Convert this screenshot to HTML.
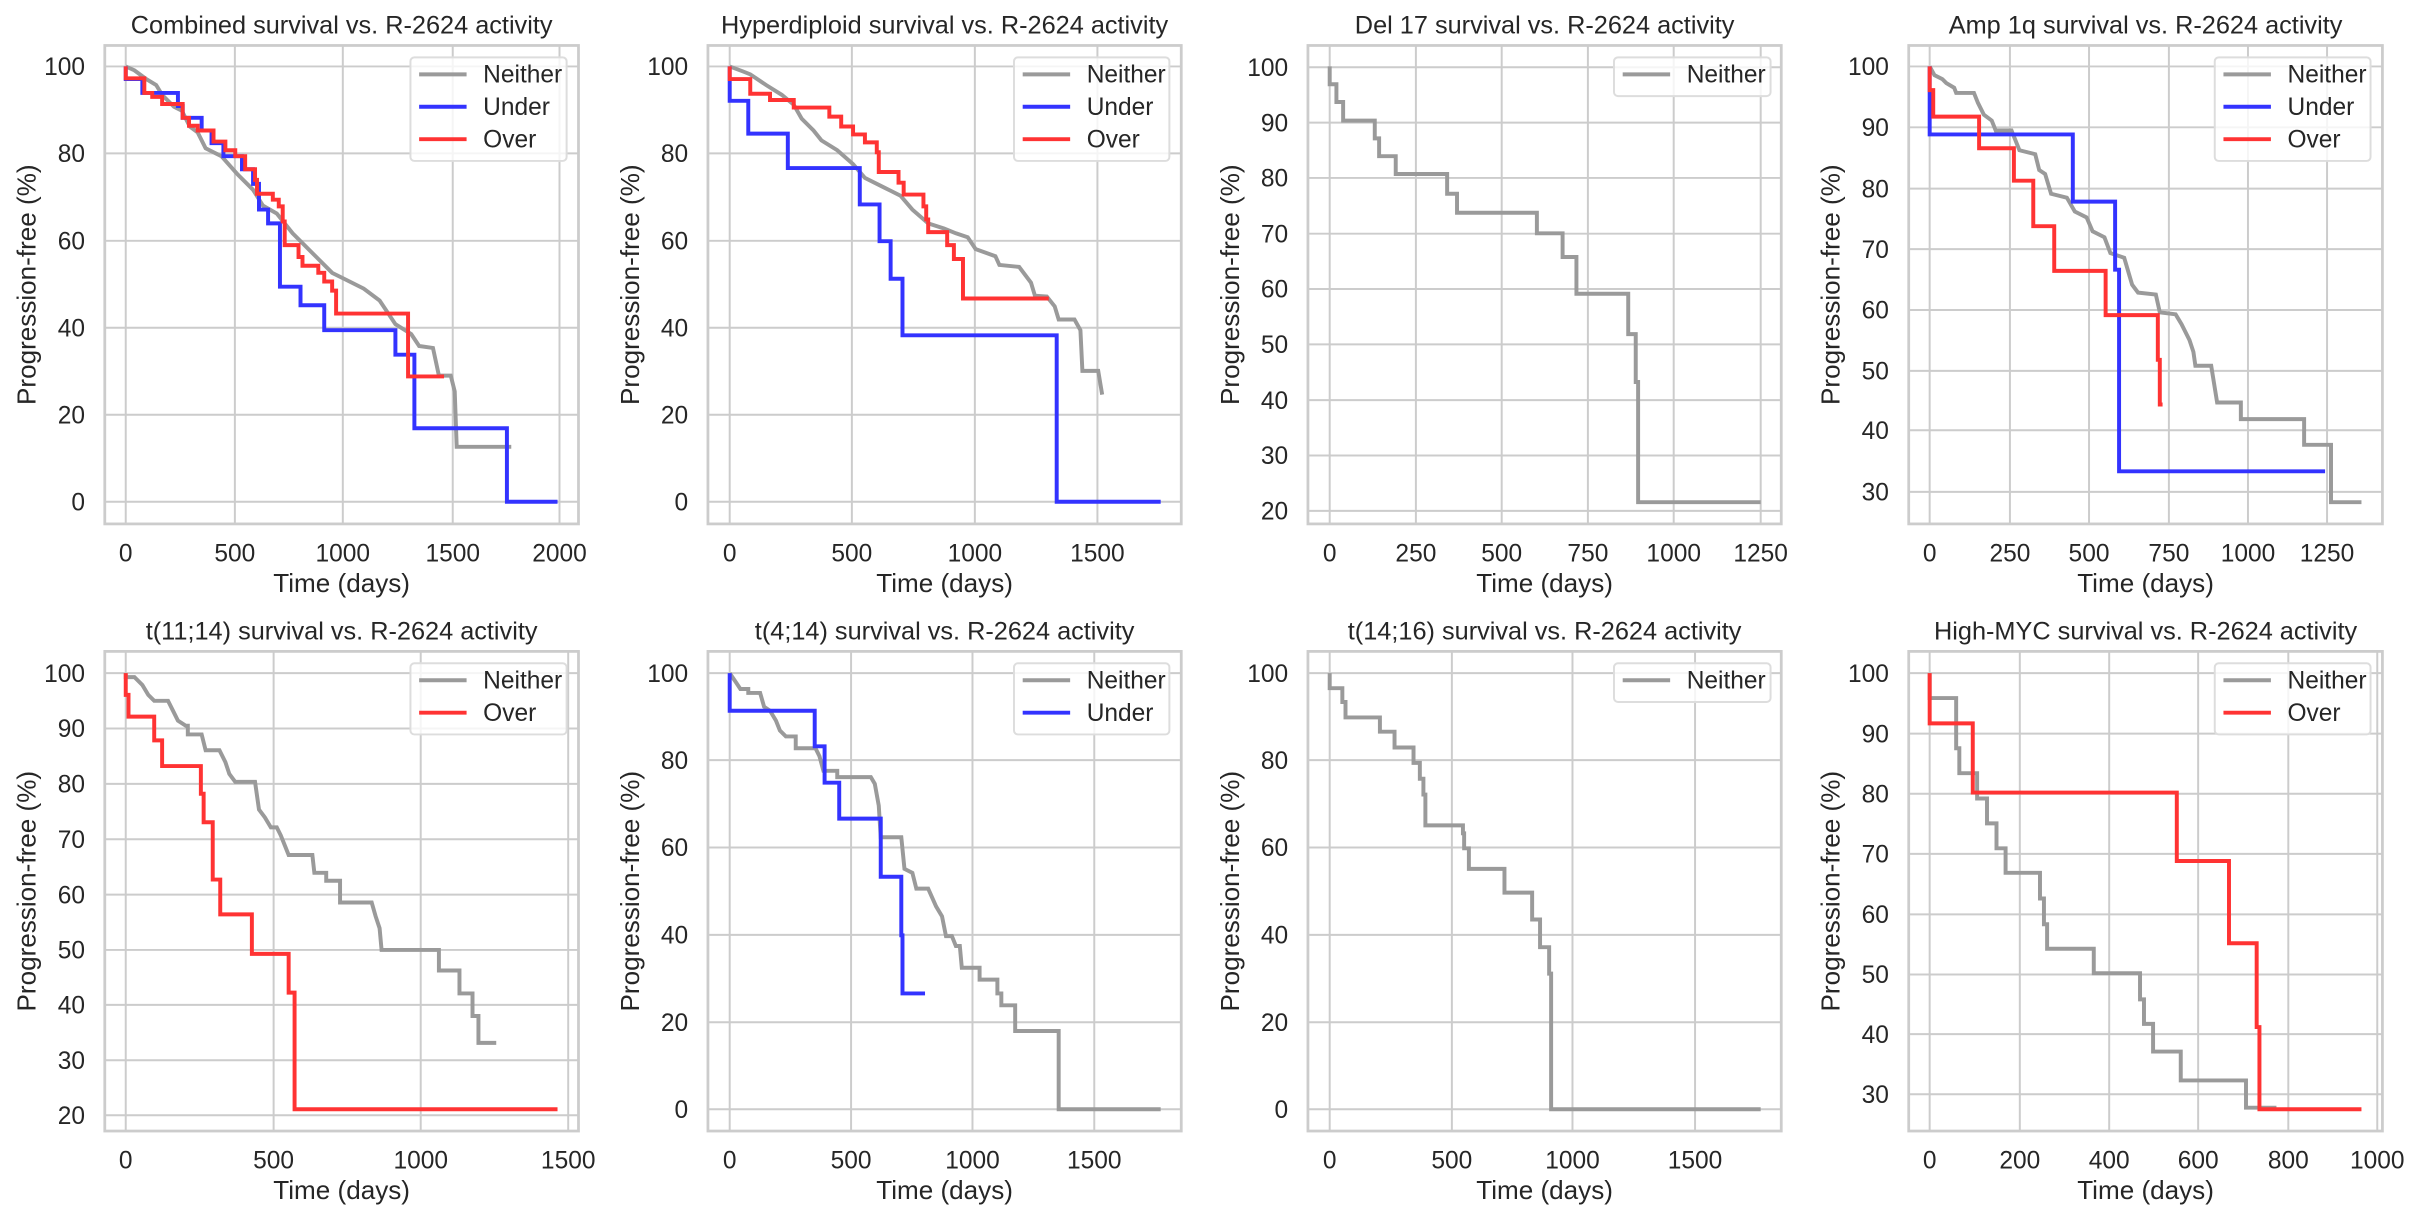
<!DOCTYPE html>
<html><head><meta charset="utf-8"><style>
html,body{margin:0;padding:0;background:#fff}
svg{display:block}
text{font-family:"Liberation Sans",Arial,sans-serif;fill:#262626}
</style></head><body>
<svg id="s" width="2418" height="1218" viewBox="0 0 2418 1218" xmlns="http://www.w3.org/2000/svg"></svg>
<script>
const G='#9a9a9a',B='#3333ff',R='#ff3333';
const P=[
{o:[0,0],ax:[265,115,1463,1325],gx:[[318,'0'],[594,'500'],[867,'1000'],[1145,'1500'],[1415,'2000']],gy:[[168,'100'],[388,'80'],[609,'60'],[829,'40'],[1049,'20'],[1269,'0']],
 t:'Combined survival vs. R-2624 activity',leg:[1038,145,1433],L:[['Neither',G],['Under',B],['Over',R]],
 s:[[G,'M318 168 L340 178 L370 200 L395 215 L410 240 L440 270 L460 280 L480 320 L500 335 L520 375 L560 395 L600 440 L640 480 L665 520 L700 540 L740 590 L800 650 L840 690 L870 705 L920 730 L960 760 L1000 820 L1040 845 L1060 875 L1095 880 L1110 950 L1140 950 L1150 990 L1155 1130 L1293 1130'],
 [B,'M318 168 V200 H360 V235 H450 V268 H462 V298 H510 V330 H535 V362 H565 V395 H612 V428 H640 V465 H655 V530 H678 V565 H708 V602 V725 H760 V772 H820 V835 H1000 V897 H1048 V1083 H1282 V1269 H1410'],
 [R,'M318 168 V198 H365 V235 H385 V245 H410 V263 H462 V298 H478 V318 H500 V330 H540 V358 H570 V380 H595 V395 H620 V428 H645 V455 H650 V490 H690 V505 H705 V522 H715 V560 H720 V620 H755 V650 H765 V672 H805 V690 H820 V712 H840 V735 H850 V793 H1032 V952 H1123']]},
{o:[600,0],ax:[273,115,1470,1325],gx:[[328,'0'],[637,'500'],[948,'1000'],[1258,'1500']],gy:[[168,'100'],[388,'80'],[609,'60'],[829,'40'],[1049,'20'],[1269,'0']],
 t:'Hyperdiploid survival vs. R-2624 activity',leg:[1047,145,1440],L:[['Neither',G],['Under',B],['Over',R]],
 s:[[G,'M328 168 L360 180 L380 188 L420 215 L460 240 L490 265 L510 300 L540 330 L560 355 L600 380 L640 415 L670 450 L720 475 L760 495 L790 530 L830 565 L870 578 L900 590 L930 600 L950 630 L1000 648 L1010 670 L1060 675 L1090 715 L1100 748 L1130 750 L1150 775 L1160 808 L1200 808 L1215 835 L1220 938 L1260 938 L1270 998'],
 [B,'M328 168 V255 H375 V338 H475 V425 H657 V517 H707 V610 H735 V705 H765 V848 H1155 V1269 H1418'],
 [R,'M328 168 V200 H380 V237 H430 V253 H490 V272 H580 V295 H610 V320 H640 V340 H670 V360 H700 V385 H705 V435 H755 V462 H768 V492 H818 V522 H825 V555 H830 V587 H878 V620 H895 V655 H918 V755 H1135']]},
{o:[1200,0],ax:[273,115,1470,1325],gx:[[328,'0'],[546,'250'],[763,'500'],[981,'750'],[1198,'1000'],[1418,'1250']],gy:[[170,'100'],[310,'90'],[450,'80'],[591,'70'],[731,'60'],[871,'50'],[1012,'40'],[1152,'30'],[1292,'20']],
 t:'Del 17 survival vs. R-2624 activity',leg:[1047,145,1443],L:[['Neither',G]],
 s:[[G,'M328 168 V213 H345 V258 H362 V305 H442 V350 H453 V395 H495 V440 H625 V490 H650 V538 H852 V590 H917 V650 H952 V743 H1083 V845 H1102 V966 H1108 V1270 H1418']]},
{o:[1798,0],ax:[280,115,1478,1325],gx:[[333,'0'],[536,'250'],[736,'500'],[938,'750'],[1138,'1000'],[1338,'1250']],gy:[[168,'100'],[322,'90'],[477,'80'],[630,'70'],[784,'60'],[938,'50'],[1088,'40'],[1244,'30']],
 t:'Amp 1q survival vs. R-2624 activity',leg:[1054,145,1448],L:[['Neither',G],['Under',B],['Over',R]],
 s:[[G,'M333 168 L345 190 L365 200 L375 210 L395 222 L400 235 H445 L455 260 L470 290 L490 305 L500 330 H540 L560 380 L600 390 L610 430 L625 440 L640 490 L680 500 L700 535 L730 550 L745 585 L775 600 L790 640 L825 652 L845 720 L860 740 L905 745 L915 790 L955 795 L970 820 L990 860 L1000 890 L1005 925 H1045 L1060 1018 H1120 V1060 H1280 V1125 H1348 V1270 H1425'],
 [B,'M333 168 V340 H695 V510 H802 V682 H812 V1192 H1333'],
 [R,'M333 168 V228 H342 V295 H458 V375 H546 V457 H595 V572 H648 V685 H778 V797 H910 V910 H915 V1023 H922']]},
{o:[0,600],ax:[265,130,1463,1343],gx:[[318,'0'],[692,'500'],[1064,'1000'],[1437,'1500']],gy:[[185,'100'],[325,'90'],[465,'80'],[605,'70'],[745,'60'],[885,'50'],[1024,'40'],[1164,'30'],[1303,'20']],
 t:'t(11;14) survival vs. R-2624 activity',leg:[1038,160,1433],L:[['Neither',G],['Over',R]],
 s:[[G,'M318 185 V195 H340 L360 215 L375 240 L390 255 H425 L440 285 L450 305 L470 318 H475 V340 H510 L520 380 H555 L570 410 L580 440 L595 460 H645 L655 530 L670 550 L685 575 H700 L710 595 L720 620 L730 645 H790 L795 690 H825 V710 H860 V765 H940 L950 800 L960 830 L965 885 H1110 V937 H1162 V995 H1195 V1052 H1210 V1120 H1255'],
 [R,'M318 185 V240 H325 V295 H390 V355 H410 V420 H508 V490 H515 V562 H538 V707 H557 V795 H637 V895 H730 V993 H745 V1288 H1410']]},
{o:[600,600],ax:[273,130,1470,1343],gx:[[328,'0'],[635,'500'],[942,'1000'],[1250,'1500']],gy:[[185,'100'],[405,'80'],[626,'60'],[847,'40'],[1068,'20'],[1288,'0']],
 t:'t(4;14) survival vs. R-2624 activity',leg:[1047,160,1440],L:[['Neither',G],['Under',B]],
 s:[[G,'M328 185 L345 210 L355 225 H375 V235 H405 L415 270 L430 280 L445 305 L455 330 L470 345 H495 V375 H545 L555 395 L565 432 H600 V448 H685 L695 465 L705 520 L710 600 H762 L770 680 L790 690 L800 730 H830 L850 775 L865 800 L875 850 H890 L900 875 H910 L915 930 H960 V960 H1005 V995 H1015 V1025 H1050 V1090 H1160 V1288 H1418'],
 [B,'M328 185 V280 H543 V370 H568 V462 H605 V553 H710 V700 H762 V848 H765 V995 H822']]},
{o:[1200,600],ax:[273,130,1470,1343],gx:[[328,'0'],[637,'500'],[942,'1000'],[1252,'1500']],gy:[[185,'100'],[405,'80'],[626,'60'],[847,'40'],[1068,'20'],[1288,'0']],
 t:'t(14;16) survival vs. R-2624 activity',leg:[1047,160,1443],L:[['Neither',G]],
 s:[[G,'M328 185 V223 H360 V258 H368 V297 H455 V333 H492 V373 H540 V412 H556 V452 H565 V492 H570 V570 H665 V590 H668 V628 H680 V680 H770 V740 H840 V808 H860 V878 H883 V945 H888 V1288 H1418']]},
{o:[1798,600],ax:[280,130,1478,1343],gx:[[333,'0'],[561,'200'],[787,'400'],[1012,'600'],[1240,'800'],[1465,'1000']],gy:[[185,'100'],[338,'90'],[490,'80'],[642,'70'],[795,'60'],[947,'50'],[1098,'40'],[1250,'30']],
 t:'High-MYC survival vs. R-2624 activity',leg:[1054,160,1448],L:[['Neither',G],['Over',R]],
 s:[[G,'M333 185 V248 H400 V375 H408 V438 H453 V502 H478 V565 H502 V628 H525 V690 H612 V755 H622 V820 H630 V882 H748 V944 H865 V1010 H875 V1072 H898 V1142 H968 V1215 H1133 V1284 H1210'],
 [R,'M333 185 V312 H442 V487 H958 V660 H1090 V868 H1160 V1080 H1167 V1288 H1425']]}
];
let h='';
const k=620/1568;
for(const p of P){
 const [x0,y0,x1,y1]=p.ax, cx=(x0+x1)/2, cy=(y0+y1)/2;
 h+=`<g transform="translate(${p.o[0]},${p.o[1]}) scale(${k})">`;
 for(const [x,l] of p.gx){h+=`<line x1="${x}" y1="${y0}" x2="${x}" y2="${y1}" stroke="#cccccc" stroke-width="5"/>`;
  h+=`<text x="${x}" y="${y1+95}" font-size="62" text-anchor="middle">${l}</text>`;}
 for(const [y,l] of p.gy){h+=`<line x1="${x0}" y1="${y}" x2="${x1}" y2="${y}" stroke="#cccccc" stroke-width="5"/>`;
  h+=`<text x="${x0-50}" y="${y+22}" font-size="62" text-anchor="end">${l}</text>`;}
 h+=`<rect x="${x0}" y="${y0}" width="${x1-x0}" height="${y1-y0}" fill="none" stroke="#cccccc" stroke-width="7"/>`;
 for(const [c,d] of p.s) h+=`<path d="${d}" fill="none" stroke="${c}" stroke-width="10" stroke-linejoin="miter"/>`;
 const [lx,ly,lr]=p.leg, n=p.L.length;
 h+=`<rect x="${lx}" y="${ly}" width="${lr-lx}" height="${n*82+16}" rx="10" fill="#fff" fill-opacity="0.8" stroke="#dddddd" stroke-width="5"/>`;
 p.L.forEach(([t,c],i)=>{const yy=ly+43+i*82;
  h+=`<line x1="${lx+22}" y1="${yy}" x2="${lx+142}" y2="${yy}" stroke="${c}" stroke-width="10"/>`;
  h+=`<text x="${lx+184}" y="${yy+21}" font-size="62">${t}</text>`;});
 h+=`<text x="${cx}" y="${y0-30}" font-size="64" text-anchor="middle">${p.t}</text>`;
 h+=`<text x="${cx}" y="${y1+172}" font-size="66" text-anchor="middle">Time (days)</text>`;
 h+=`<text transform="translate(${x0-175},${cy}) rotate(-90)" font-size="66" text-anchor="middle">Progression-free (%)</text>`;
 h+='</g>';
}
document.getElementById('s').innerHTML=h;
</script>
</body></html>
